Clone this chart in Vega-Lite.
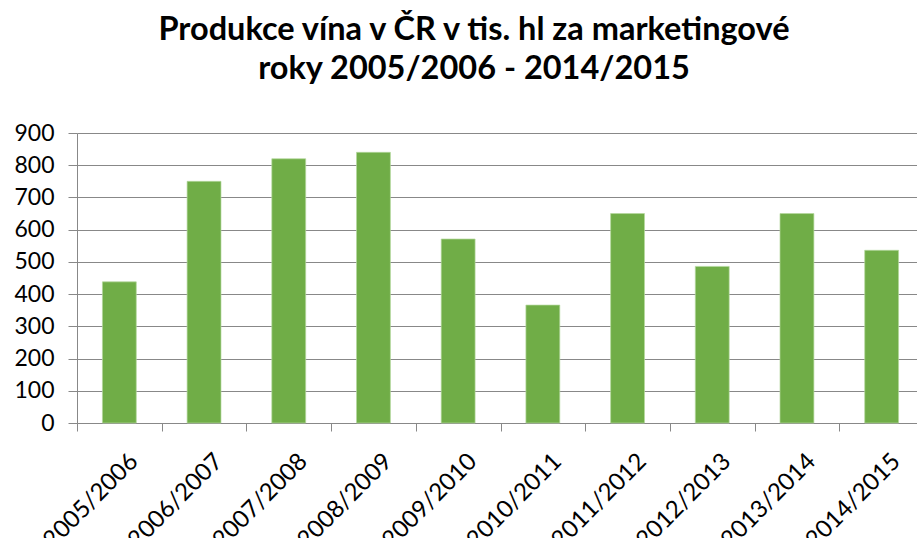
{
  "$schema": "https://vega.github.io/schema/vega-lite/v6.json",
  "autosize": "none",
  "width": 840,
  "height": 290,
  "padding": {"left": 77, "top": 133, "right": 0, "bottom": 115},
  "background": "white",
  "title": {
    "text": ["Produkce vína v ČR v tis. hl za marketingové", "roky 2005/2006 - 2014/2015"],
    "font": "Lato",
    "fontSize": 32.5,
    "fontWeight": "bold",
    "color": "#000000",
    "lineHeight": 39,
    "anchor": "middle",
    "baseline": "bottom",
    "dx": -23,
    "offset": 4
  },
  "data": {
    "values": [
      {"rok": "2005/2006", "hodnota": 438},
      {"rok": "2006/2007", "hodnota": 750},
      {"rok": "2007/2008", "hodnota": 820},
      {"rok": "2008/2009", "hodnota": 840},
      {"rok": "2009/2010", "hodnota": 571},
      {"rok": "2010/2011", "hodnota": 366},
      {"rok": "2011/2012", "hodnota": 650},
      {"rok": "2012/2013", "hodnota": 486},
      {"rok": "2013/2014", "hodnota": 650},
      {"rok": "2014/2015", "hodnota": 536}
    ]
  },
  "mark": {"type": "bar", "color": "#70AD47", "stroke": "#b5d99d", "strokeWidth": 0.7, "width": {"band": 0.4}},
  "encoding": {
    "x": {
      "field": "rok",
      "type": "nominal",
      "sort": null,
      "title": null,
      "scale": {"paddingInner": 0, "paddingOuter": 0, "range": [0, 847]},
      "axis": {
        "labelAngle": -45,
        "labelFont": "Lato",
        "labelFontSize": 24,
        "labelColor": "#000000",
        "labelPadding": 18,
        "labelOffset": 6,
        "labelOverlap": false,
        "tickBand": "extent",
        "tickSize": 8,
        "tickColor": "#888888",
        "domainColor": "#888888",
        "grid": false
      }
    },
    "y": {
      "field": "hodnota",
      "type": "quantitative",
      "title": null,
      "scale": {"domain": [0, 900], "nice": false},
      "axis": {
        "values": [0, 100, 200, 300, 400, 500, 600, 700, 800, 900],
        "labelFont": "Lato",
        "labelFontSize": 23,
        "labelColor": "#000000",
        "labelPadding": 14,
        "tickSize": 9,
        "tickColor": "#888888",
        "domainColor": "#888888",
        "gridColor": "#888888",
        "gridWidth": 1
      }
    }
  },
  "config": {"view": {"stroke": null}}
}
